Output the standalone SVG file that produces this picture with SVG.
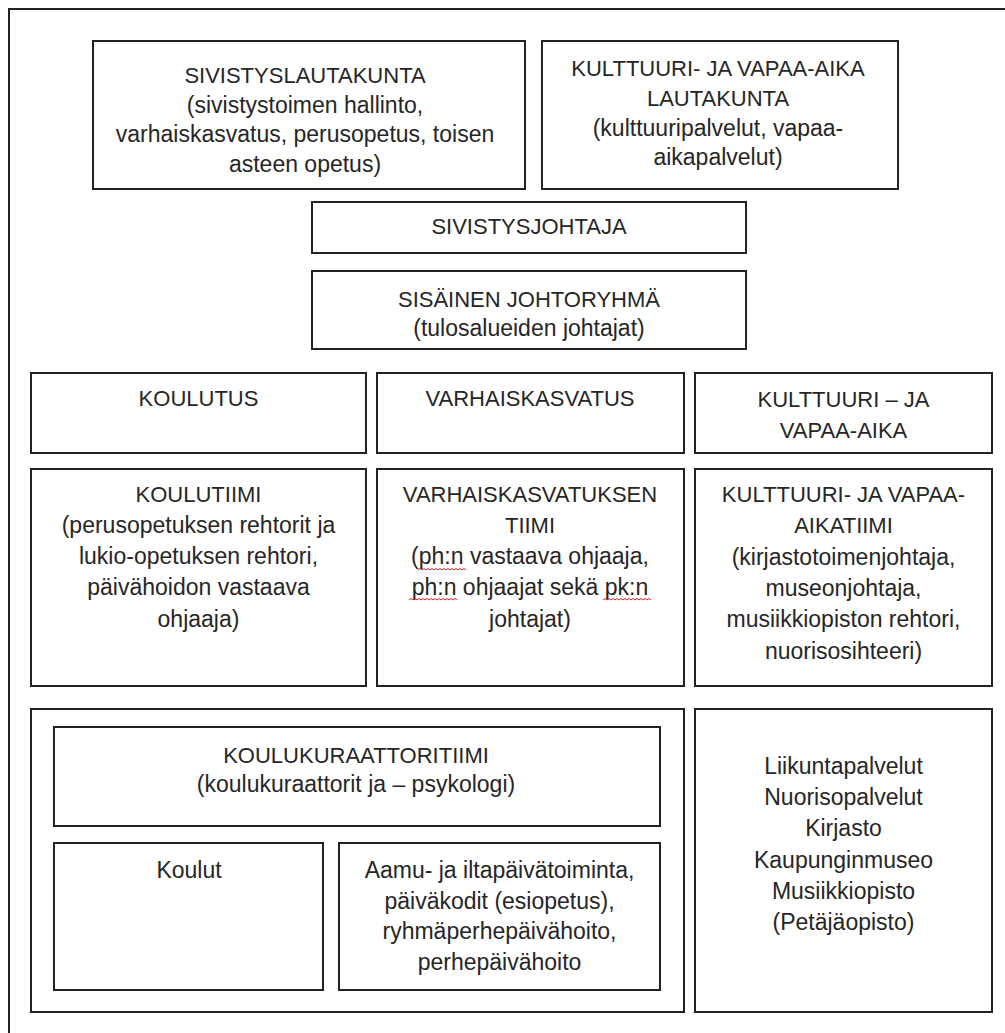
<svg xmlns="http://www.w3.org/2000/svg" xmlns:xlink="http://www.w3.org/1999/xlink" width="1005" height="1033" viewBox="0 0 1005 1033">
<style>
.box{fill:#fff;stroke:#222;stroke-width:2}
.frame{fill:none;stroke:#222;stroke-width:2}
text{font-family:"Liberation Sans",Arial,sans-serif;font-size:23px;fill:#262626;text-anchor:middle}
text.c{font-size:22px}
.sq{fill:none;stroke:#d42020;stroke-width:1}
</style>
<defs>
<path id="sq" class="sq" d="M0 0 l2 -1.5 l2 1.5 l2 -1.5 l2 1.5 l2 -1.5 l2 1.5 l2 -1.5 l2 1.5 l2 -1.5 l2 1.5 l2 -1.5 l2 1.5 l2 -1.5 l2 1.5 l2 -1.5 l2 1.5 l2 -1.5 l2 1.5 l2 -1.5 l2 1.5 l2 -1.5 l2 1.5 l2 -1.5 l2 1.5"/>
</defs>
<rect width="1005" height="1033" fill="#fff"/>
<rect class="frame" x="9" y="9" width="1010" height="1040"/>
<g id="connectors"></g>
<g id="sivistyslautakunta">
<rect class="box" x="93" y="41" width="432" height="148"/>
<text class="c" x="305" y="83">SIVISTYSLAUTAKUNTA</text>
<text x="305" y="112.5">(sivistystoimen hallinto,</text>
<text x="305" y="142">varhaiskasvatus, perusopetus, toisen</text>
<text x="305" y="171.5">asteen opetus)</text>
</g>
<g id="kulttuurilautakunta">
<rect class="box" x="542" y="41" width="356" height="148"/>
<text class="c" x="718" y="76">KULTTUURI- JA VAPAA-AIKA</text>
<text class="c" x="718" y="106">LAUTAKUNTA</text>
<text x="718" y="136">(kulttuuripalvelut, vapaa-</text>
<text x="718" y="165">aikapalvelut)</text>
</g>
<g id="sivistysjohtaja">
<rect class="box" x="312" y="202" width="434" height="51"/>
<text class="c" x="529" y="234">SIVISTYSJOHTAJA</text>
</g>
<g id="johtoryhma">
<rect class="box" x="312" y="271" width="434" height="78"/>
<text class="c" x="529" y="307">SISÄINEN JOHTORYHMÄ</text>
<text x="529" y="336">(tulosalueiden johtajat)</text>
</g>
<g id="koulutus">
<rect class="box" x="31" y="373" width="335" height="80"/>
<text class="c" x="198.5" y="406">KOULUTUS</text>
</g>
<g id="varhaiskasvatus">
<rect class="box" x="377" y="373" width="307" height="80"/>
<text class="c" x="530" y="406">VARHAISKASVATUS</text>
</g>
<g id="kulttuuri">
<rect class="box" x="695" y="373" width="297" height="80"/>
<text class="c" x="843.5" y="407">KULTTUURI – JA</text>
<text class="c" x="843.5" y="438">VAPAA-AIKA</text>
</g>
<g id="koulutiimi">
<rect class="box" x="31" y="469" width="335" height="217"/>
<text class="c" x="198.5" y="502">KOULUTIIMI</text>
<text x="198.5" y="533">(perusopetuksen rehtorit ja</text>
<text x="198.5" y="564">lukio-opetuksen rehtori,</text>
<text x="198.5" y="595">päivähoidon vastaava</text>
<text x="198.5" y="627">ohjaaja)</text>
</g>
<g id="varhaiskasvatustiimi">
<rect class="box" x="377" y="469" width="307" height="217"/>
<text class="c" x="530" y="502">VARHAISKASVATUKSEN</text>
<text class="c" x="530" y="533">TIIMI</text>
<text x="530" y="564">(ph:n vastaava ohjaaja,</text>
<text x="530" y="595">ph:n ohjaajat sekä pk:n</text>
<text x="530" y="627">johtajat)</text>
<use xlink:href="#sq" x="418" y="570"/>
<use xlink:href="#sq" x="409" y="600"/>
<use xlink:href="#sq" x="603" y="600"/>
</g>
<g id="kulttuuritiimi">
<rect class="box" x="695" y="469" width="297" height="217"/>
<text class="c" x="843.5" y="502">KULTTUURI- JA VAPAA-</text>
<text class="c" x="843.5" y="533">AIKATIIMI</text>
<text x="843.5" y="565">(kirjastotoimenjohtaja,</text>
<text x="843.5" y="596">museonjohtaja,</text>
<text x="843.5" y="627">musiikkiopiston rehtori,</text>
<text x="843.5" y="659">nuorisosihteeri)</text>
</g>
<g id="koulutus-ryhma">
<rect class="box" x="31" y="709" width="653" height="303"/>
</g>
<g id="koulukuraattoritiimi">
<rect class="box" x="54" y="727" width="606" height="99"/>
<text class="c" x="356" y="763">KOULUKURAATTORITIIMI</text>
<text x="356" y="792">(koulukuraattorit ja – psykologi)</text>
</g>
<g id="koulut">
<rect class="box" x="54" y="843" width="269" height="147"/>
<text x="189" y="878">Koulut</text>
</g>
<g id="aamu">
<rect class="box" x="339" y="843" width="321" height="147"/>
<text x="499.5" y="878">Aamu- ja iltapäivätoiminta,</text>
<text x="499.5" y="909">päiväkodit (esiopetus),</text>
<text x="499.5" y="939">ryhmäperhepäivähoito,</text>
<text x="499.5" y="970">perhepäivähoito</text>
</g>
<g id="palvelut">
<rect class="box" x="695" y="709" width="297" height="303"/>
<text x="843.5" y="774">Liikuntapalvelut</text>
<text x="843.5" y="805">Nuorisopalvelut</text>
<text x="843.5" y="836">Kirjasto</text>
<text x="843.5" y="868">Kaupunginmuseo</text>
<text x="843.5" y="899">Musiikkiopisto</text>
<text x="843.5" y="930">(Petäjäopisto)</text>
</g>
</svg>
